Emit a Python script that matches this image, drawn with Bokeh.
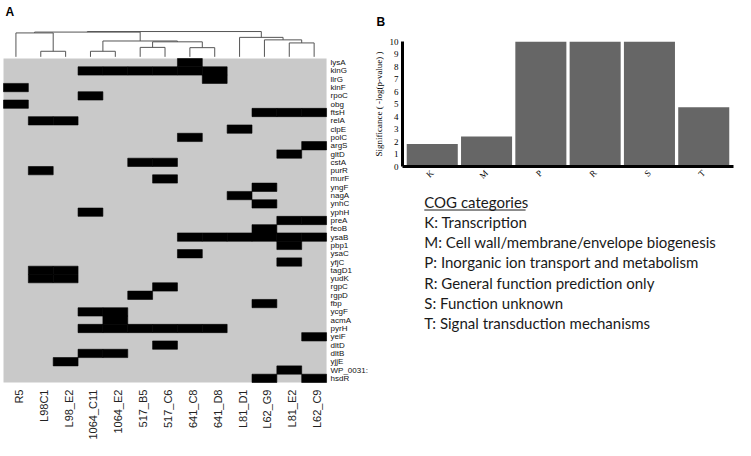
import numpy as np
from bokeh.plotting import figure
from bokeh.layouts import row, column
from bokeh.models import Range1d, FactorRange, FixedTicker
from bokeh.core.properties import value
from bokeh.embed import file_html
from bokeh.resources import INLINE

# ---------------- data ----------------
strains = ["R5", "L98C1", "L98_E2", "1064_C11", "1064_E2", "517_B5", "517_C6",
           "641_C8", "641_D8", "L81_D1", "L62_G9", "L81_E2", "L62_C9"]
genes = ["lysA", "kinG", "llrG", "kinF", "rpoC", "obg", "ftsH", "relA", "clpE", "polC",
         "argS", "gltD", "cstA", "purR", "murF", "yngF", "nagA", "ynhC", "yphH", "preA",
         "feoB", "ysaB", "pbp1", "ysaC", "yfjC", "tagD1", "yudK", "rgpC", "rgpD", "fbp",
         "ycgF", "acmA", "pyrH", "yeiF", "dltD", "dltB", "yjjE", "WP_0031:", "hsdR"]
presence = [
    "0000000100000",  # lysA
    "0001111110000",  # kinG
    "0000000010000",  # llrG
    "1000000000000",  # kinF
    "0001000000000",  # rpoC
    "1000000000000",  # obg
    "0000000000111",  # ftsH
    "0110000000000",  # relA
    "0000000001000",  # clpE
    "0000000100000",  # polC
    "0000000000001",  # argS
    "0000000000010",  # gltD
    "0000011000000",  # cstA
    "0100000000000",  # purR
    "0000001000000",  # murF
    "0000000000100",  # yngF
    "0000000001000",  # nagA
    "0000000000100",  # ynhC
    "0001000000000",  # yphH
    "0000000000011",  # preA
    "0000000000100",  # feoB
    "0000000111111",  # ysaB
    "0000000000010",  # pbp1
    "0000000100000",  # ysaC
    "0000000000010",  # yfjC
    "0110000000000",  # tagD1
    "0110000000000",  # yudK
    "0000001000000",  # rgpC
    "0000010000000",  # rgpD
    "0000000000100",  # fbp
    "0001100000000",  # ycgF
    "0000100000000",  # acmA
    "0001111110000",  # pyrH
    "0000000000001",  # yeiF
    "0000001000000",  # dltD
    "0001100000000",  # dltB
    "0010000000000",  # yjjE
    "0000000000010",  # WP_0031
    "0000000000101",  # hsdR
]
# dendrogram (leaf ids 0..12 = strains, merged ids from 13 on)
merge_a = [1, 3, 5, 7, 11, 15, 14, 10, 9, 0, 22, 23]
merge_b = [2, 4, 6, 8, 12, 16, 18, 17, 20, 13, 19, 21]
merge_h = [0.26, 0.26, 0.40, 0.39, 0.56, 0.60, 0.63, 0.67, 0.76, 0.92, 0.95, 0.97]

cog_codes = ["K", "M", "P", "R", "S", "T"]
cog_sig = [1.8, 2.4, 10, 10, 10, 4.75]
cog_names = ["Transcription", "Cell wall/membrane/envelope biogenesis",
             "Inorganic ion transport and metabolism", "General function prediction only",
             "Function unknown", "Signal transduction mechanisms"]
y_ticks = list(range(0, 11))

SANS = "Liberation Sans"
SERIF = "Liberation Serif"

# ---------------- panel A ----------------
NC, NR = len(strains), len(genes)
WA, HA = 370, 440
col_px = 24.85
row_px = 8.308
hm_left, hm_top, hm_bottom = 3, 58, 382
x_start = -hm_left / col_px
y_end = NR + hm_top / row_px
y_start = -(HA - hm_bottom) / row_px

pA = figure(width=WA, height=HA, x_range=Range1d(x_start, x_start + WA / col_px),
            y_range=Range1d(y_start, y_end), x_axis_location=None, y_axis_location=None,
            output_backend="svg", toolbar_location=None, min_border=0)
pA.grid.grid_line_color = None
pA.outline_line_color = None

pA.quad(left=[0], right=[NC], bottom=[0], top=[NR], fill_color="#c9c9c9", line_color=None)
bx, by = [], []
for r, rowstr in enumerate(presence):
    for c, ch in enumerate(rowstr):
        if ch == "1":
            bx.append(c + 0.5)
            by.append(NR - r - 0.5)
pA.rect(x=bx, y=by, width=1, height=1, fill_color="black", line_color="black", line_width=0.6)

# dendrogram
DS = 3.346
LEAF_BASE = 0.06
node_x = {i: i + 0.5 for i in range(NC)}
node_h = {i: LEAF_BASE for i in range(NC)}
x0s, y0s, x1s, y1s = [], [], [], []
for k, (a, b, h) in enumerate(zip(merge_a, merge_b, merge_h)):
    nid = NC + k
    for cid in (a, b):
        x0s.append(node_x[cid]); x1s.append(node_x[cid])
        y0s.append(NR + node_h[cid] * DS); y1s.append(NR + h * DS)
    x0s.append(node_x[a]); x1s.append(node_x[b])
    y0s.append(NR + h * DS); y1s.append(NR + h * DS)
    node_x[nid] = (node_x[a] + node_x[b]) / 2
    node_h[nid] = h
pA.segment(x0=x0s, y0=y0s, x1=x1s, y1=y1s, line_color="#555555", line_width=1)

# labels
pA.text(x=[NC + 0.16] * NR, y=[NR - r - 0.5 for r in range(NR)], text=genes,
        text_font=value(SANS), text_font_size="8px", text_align="left",
        text_baseline="middle", text_color="#111111")
pA.text(x=[c + 0.5 for c in range(NC)], y=[-0.85] * NC, text=strains, angle=np.pi / 2,
        x_offset=3, text_font=value(SANS), text_font_size="11px", text_align="right",
        text_baseline="middle", text_color="#222222")
pA.text(x=[0.08], y=[y_end - 0.6], text=["A"], text_font=value(SANS), text_font_size="12px",
        text_font_style="bold", text_align="left", text_baseline="top", text_color="black")

# ---------------- panel B: bar chart ----------------
WB, HB = 365, 190
BL, BR, BT, BB = 29, 2, 39, 24
pB = figure(width=WB, height=HB,
            x_range=FactorRange(*cog_codes, range_padding=0.016, range_padding_units="percent"),
            y_range=Range1d(0, 10), output_backend="svg", toolbar_location=None,
            min_border_left=BL, min_border_right=BR, min_border_top=BT, min_border_bottom=BB)
pB.grid.grid_line_color = None
pB.outline_line_color = None
pB.vbar(x=cog_codes, top=cog_sig, width=0.94, fill_color="#666666", line_color=None)

pB.title.text = "B"
pB.title.align = "left"
pB.title.offset = -26
pB.title.standoff = 25
pB.title.text_font = SANS
pB.title.text_font_size = "12px"
pB.title.text_font_style = "bold"
pB.title.text_color = "black"

pB.yaxis.ticker = FixedTicker(ticks=y_ticks)
pB.yaxis.axis_label = "Significance ( -log(p-value) )"
for ax in (pB.xaxis, pB.yaxis):
    ax.axis_line_width = 3
    ax.axis_line_color = "black"
    ax.major_tick_line_color = None
    ax.minor_tick_line_color = None
    ax.major_tick_out = 0
    ax.major_tick_in = 0
    ax.minor_tick_out = 0
    ax.major_label_text_font = SERIF
    ax.major_label_text_font_size = "9px"
    ax.major_label_text_color = "black"
pB.yaxis.major_label_standoff = 4
pB.yaxis.axis_label_standoff = 3
pB.yaxis.axis_label_text_font = SERIF
pB.yaxis.axis_label_text_font_size = "9px"
pB.yaxis.axis_label_text_font_style = "normal"
pB.yaxis.axis_label_text_color = "black"
pB.xaxis.major_label_orientation = np.pi / 4
pB.xaxis.major_label_standoff = 5

# ---------------- panel B: legend text ----------------
HL = HA - HB
frame_w = WB - BL - BR
pL = figure(width=WB, height=HL, x_range=Range1d(0, frame_w), y_range=Range1d(0, HL),
            x_axis_location=None, y_axis_location=None,
            output_backend="svg", toolbar_location=None,
            min_border_left=BL, min_border_right=BR, min_border_top=0, min_border_bottom=0)
pL.grid.grid_line_color = None
pL.outline_line_color = None

leg_title = "COG categories"
leg_lines = [leg_title] + [f"{c}: {n}" for c, n in zip(cog_codes, cog_names)]
lx = 22
ly0 = HL - 11
pitch = 20.3
pL.text(x=[lx] * len(leg_lines), y=[ly0 - i * pitch for i in range(len(leg_lines))],
        text=leg_lines, text_font=value("Lato"), text_font_size="15px",
        text_align="left", text_baseline="middle", text_color="#1a1a1a")
ul_w = len(leg_title) * 7.3
pL.segment(x0=[lx], y0=[ly0 - 8.5], x1=[lx + ul_w], y1=[ly0 - 8.5], line_color="#1a1a1a", line_width=1)

layout = row(pA, column(pB, pL))
open("out.html", "w").write(file_html(layout, INLINE))
